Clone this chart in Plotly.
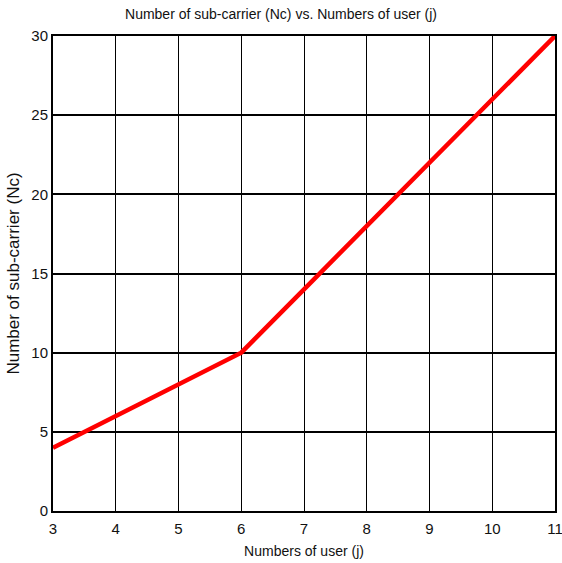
import plotly.graph_objects as go

users = [3, 4, 5, 6, 7, 8, 9, 10, 11]
subcarriers = [4, 6, 8, 10, 14, 18, 22, 26, 30]
x_ticks = [3, 4, 5, 6, 7, 8, 9, 10, 11]
y_ticks = [0, 5, 10, 15, 20, 25, 30]

fig = go.Figure()
fig.add_trace(go.Scatter(x=users, y=subcarriers, mode="lines",
                         line=dict(color="#ff0000", width=4.5), showlegend=False))

font = "Liberation Sans, Arial, sans-serif"
W, H = 562, 563
fig.update_layout(
    width=W, height=H,
    paper_bgcolor="white", plot_bgcolor="white",
    margin=dict(l=53, r=7, t=36, b=52, autoexpand=False),
    title=dict(text="Number of sub-carrier (Nc) vs. Numbers of user (j)",
               x=0.5, xanchor="center", y=0.984, yanchor="top",
               font=dict(family=font, size=14, color="#111")),
    font=dict(family=font, size=14, color="#111"),
)
fig.update_xaxes(range=[3, 11], tickvals=x_ticks, showgrid=True, gridcolor="black",
                 gridwidth=1, showline=True, linecolor="black", linewidth=2, mirror=True,
                 ticks="", zeroline=False, automargin=False, ticklabelstandoff=3,
                 ticklabeloverflow="allow",
                 title=dict(text="Numbers of user (j)", standoff=10,
                            font=dict(family=font, size=14)),
                 tickfont=dict(size=15))
fig.update_yaxes(range=[0, 30], tickvals=y_ticks, showgrid=True, gridcolor="black",
                 gridwidth=1.5, showline=True, linecolor="black", linewidth=2, mirror=True,
                 ticks="", zeroline=False, automargin=False, ticklabeloverflow="allow",
                 title=dict(text="Number of sub-carrier (Nc)", standoff=7,
                            font=dict(family=font, size=17)),
                 tickfont=dict(size=15))

fig.write_html("out.html", config={"displayModeBar": False},
               post_script="document.body.style.margin='0';document.body.style.overflow='hidden';")
